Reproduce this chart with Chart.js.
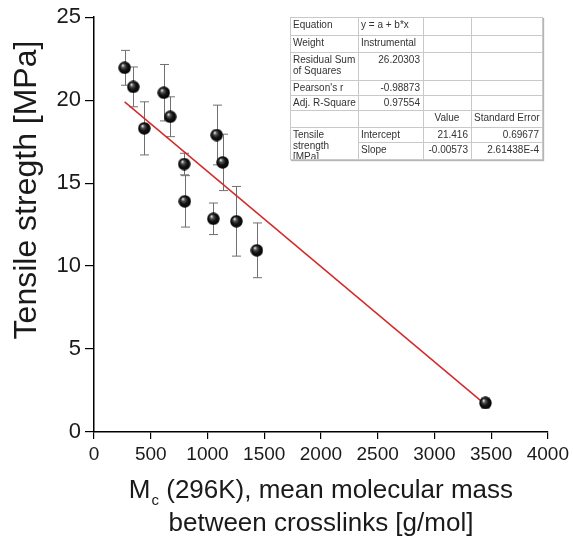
<!DOCTYPE html>
<html>
<head>
<meta charset="utf-8">
<script src="https://cdn.jsdelivr.net/npm/chart.js@4.4.1/dist/chart.umd.min.js"></script>
<style>
  html, body { margin: 0; padding: 0; background: #fff; }
  #wrap { position: relative; width: 573px; height: 556px; }
  #fit {
    position: absolute; left: 290px; top: 17px;
    border-collapse: collapse; table-layout: fixed;
    font: 10px "Liberation Sans", Arial, sans-serif; color: #333;
    background: #fff; border: 1px solid #8c8c8c;
    box-shadow: 1px 1px 1px #b5b5b5;
  }
  #fit td {
    border: 1px solid #c9c9c9; padding: 1px 3px 0 2px;
    vertical-align: top; white-space: nowrap; overflow: hidden;
    line-height: 11px;
  }
  #fit td.num { text-align: right; }
  #fit td.mid { text-align: center; }
  #fit td div { overflow: hidden; }
</style>
</head>
<body>
<div id="wrap">
  <canvas id="chart" width="573" height="556"></canvas>
  <table id="fit"></table>
</div>
<script>
// measured points: Mc (g/mol) vs tensile strength (MPa)
const mcValues = [270, 346, 443, 615, 672, 795, 800, 1052, 1081, 1134, 1255, 1435, 3450];
const strength = [21.95, 20.8, 18.3, 20.45, 19.0, 16.15, 13.9, 12.85, 17.9, 16.25, 12.7, 10.95, 1.75];
const strengthErr = [1.05, 1.2, 1.6, 1.7, 1.2, 0.65, 1.55, 0.95, 1.8, 1.7, 2.1, 1.65, 0.3];

// end points of the red linear fit
const fitX = [270, 3450];
const fitY = [19.9, 1.65];

// fit report box
const colWidths = [68, 65, 48, 71];
const rowHeights = [18, 17, 28, 15, 15, 17, 15, 16];
const fitRows = [
  ["Equation", "y = a + b*x", "", ""],
  ["Weight", "Instrumental", "", ""],
  ["Residual Sum<br>of Squares", "26.20303", "", ""],
  ["Pearson's r", "-0.98873", "", ""],
  ["Adj. R-Square", "0.97554", "", ""],
  ["", "", "Value", "Standard Error"],
  ["Tensile<br>strength<br>[MPa]", "Intercept", "21.416", "0.69677"],
  [null, "Slope", "-0.00573", "2.61438E-4"]
];

// build the table
const tbl = document.getElementById("fit");
tbl.style.width = colWidths.reduce((a, b) => a + b, 0) + "px";
let html = "<colgroup>" + colWidths.map(w => `<col style="width:${w}px">`).join("") + "</colgroup>";
fitRows.forEach((row, r) => {
  html += `<tr style="height:${rowHeights[r]}px">`;
  row.forEach((cell, c) => {
    if (cell === null) return;
    let cls = "";
    if (r >= 2 && r <= 4 && c === 1) cls = "num";
    if (r >= 6 && c >= 2) cls = "num";
    if (r === 5 && c === 2) cls = "mid";
    if (r === 6 && c === 0) {
      const h = rowHeights[6] + rowHeights[7] - 1;
      html += `<td rowspan="2"><div style="height:${h}px">${cell}</div></td>`;
    } else {
      html += `<td class="${cls}">${cell}</td>`;
    }
  });
  html += "</tr>";
});
tbl.innerHTML = html;

// black glossy ball used as the point marker
function makeBall(d) {
  const c = document.createElement("canvas");
  c.width = d; c.height = d;
  const g = c.getContext("2d");
  const r = d / 2;
  const grad = g.createRadialGradient(r - 2, r - 2.5, 0.3, r, r, r);
  grad.addColorStop(0, "#f4f4f4");
  grad.addColorStop(0.22, "#5a5a5a");
  grad.addColorStop(0.55, "#141414");
  grad.addColorStop(1, "#000");
  g.fillStyle = grad;
  g.beginPath();
  g.arc(r, r, r - 0.3, 0, Math.PI * 2);
  g.fill();
  return c;
}
const ball = makeBall(13);

const FONT = '"Liberation Sans", Arial, sans-serif';

const errorBars = {
  id: "errorBars",
  beforeDatasetsDraw(chart) {
    const { ctx, scales: { x, y } } = chart;
    ctx.save();
    ctx.strokeStyle = "#707070";
    ctx.lineWidth = 1;
    mcValues.forEach((mc, i) => {
      const px = Math.round(x.getPixelForValue(mc)) + 0.5;
      const top = y.getPixelForValue(strength[i] + strengthErr[i]);
      const bot = y.getPixelForValue(strength[i] - strengthErr[i]);
      ctx.beginPath();
      ctx.moveTo(px, top); ctx.lineTo(px, bot);
      ctx.moveTo(px - 4.5, top); ctx.lineTo(px + 4.5, top);
      ctx.moveTo(px - 4.5, bot); ctx.lineTo(px + 4.5, bot);
      ctx.stroke();
    });
    ctx.restore();
  }
};

const axisTitles = {
  id: "axisTitles",
  afterDraw(chart) {
    const { ctx, chartArea } = chart;
    ctx.save();
    ctx.fillStyle = "#1a1a1a";
    // y title
    ctx.font = "32px " + FONT;
    ctx.textAlign = "center";
    ctx.textBaseline = "middle";
    ctx.translate(27, 190);
    ctx.rotate(-Math.PI / 2);
    ctx.fillText("Tensile stregth [MPa]", 0, 0);
    ctx.restore();

    // x title, two lines, with subscript c
    ctx.save();
    ctx.fillStyle = "#1a1a1a";
    ctx.textBaseline = "alphabetic";
    ctx.textAlign = "left";
    const cx = (chartArea.left + chartArea.right) / 2;
    const big = "26px " + FONT, small = "15px " + FONT;
    const rest = " (296K), mean molecular mass";
    ctx.font = big;
    const wM = ctx.measureText("M").width;
    const wRest = ctx.measureText(rest).width;
    ctx.font = small;
    const wc = ctx.measureText("c").width + 1;
    const sx = cx - (wM + wc + wRest) / 2;
    const base1 = 498;
    ctx.font = big;
    ctx.fillText("M", sx, base1);
    ctx.font = small;
    ctx.fillText("c", sx + wM + 1, base1 + 7);
    ctx.font = big;
    ctx.fillText(rest, sx + wM + wc, base1);
    ctx.textAlign = "center";
    ctx.fillText("between crosslinks [g/mol]", cx, 531);
    ctx.restore();
  }
};

new Chart(document.getElementById("chart"), {
  type: "scatter",
  data: {
    datasets: [
      {
        label: "Tensile strength",
        data: mcValues.map((v, i) => ({ x: v, y: strength[i] })),
        pointStyle: ball,
        pointRadius: 6.5,
        showLine: false,
        order: 0
      },
      {
        type: "line",
        label: "Linear fit",
        data: fitX.map((v, i) => ({ x: v, y: fitY[i] })),
        borderColor: "#d32a2a",
        borderWidth: 1.5,
        pointRadius: 0,
        fill: false,
        order: 1
      }
    ]
  },
  options: {
    responsive: false,
    animation: false,
    devicePixelRatio: 1,
    layout: { padding: { top: 16, right: 24, left: 0, bottom: 0 } },
    plugins: { legend: { display: false }, tooltip: { enabled: false } },
    scales: {
      x: {
        type: "linear",
        min: 0,
        max: 4000,
        afterFit: s => { s.height = 124; },
        border: { color: "#000", width: 1.5 },
        grid: { drawOnChartArea: false, drawTicks: true, tickLength: 7, color: "#000", lineWidth: 1.2 },
        ticks: {
          stepSize: 500,
          autoSkip: false,
          maxRotation: 0,
          padding: 4,
          color: "#1a1a1a",
          font: { size: 19, family: FONT },
          callback: v => String(v)
        }
      },
      y: {
        min: 0,
        max: 25,
        afterFit: s => { s.width = 94; },
        border: { color: "#000", width: 1.5 },
        grid: { drawOnChartArea: false, drawTicks: true, tickLength: 9, color: "#000", lineWidth: 1.2 },
        ticks: {
          stepSize: 5,
          padding: 4,
          color: "#1a1a1a",
          font: { size: 22, family: FONT },
          callback: v => String(v)
        }
      }
    }
  },
  plugins: [errorBars, axisTitles]
});
</script>
</body>
</html>
